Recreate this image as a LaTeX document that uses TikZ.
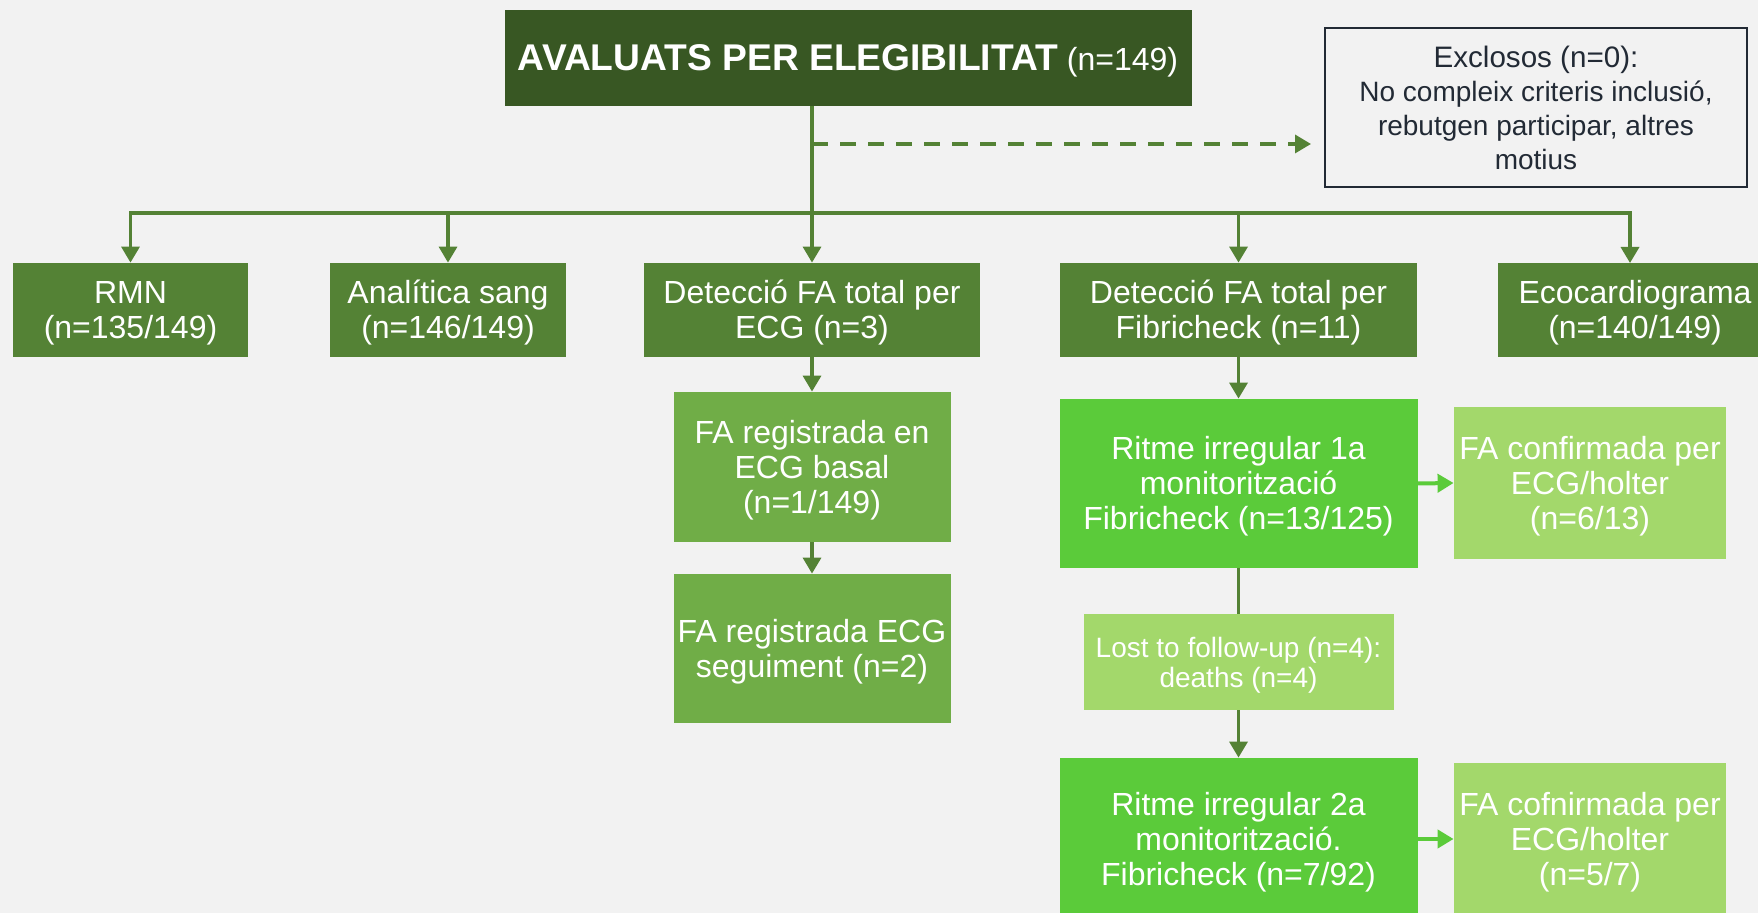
\documentclass[tikz,border=0pt]{standalone}
\usepackage{fontspec}
\setmainfont{Liberation Sans}
\usetikzlibrary{arrows.meta}
\definecolor{bgc}{HTML}{F2F2F2}
\definecolor{topc}{HTML}{385723}
\definecolor{rowc}{HTML}{548235}
\definecolor{regc}{HTML}{70AD47}
\definecolor{ritc}{HTML}{5BCB3A}
\definecolor{confc}{HTML}{A3D86B}
\definecolor{darkc}{HTML}{222A35}
\begin{document}
\begin{tikzpicture}[x=0.5pt,y=-0.5pt,
  txt/.style={inner sep=0pt, align=center, text=white, yshift=-1.5pt,
    font=\fontsize{16}{17.5}\selectfont},
  box/.style={rectangle, inner sep=0pt},
  rowbox/.style={box, fill=rowc, minimum height=47pt},
  regbox/.style={box, fill=regc, minimum width=138.5pt},
  ritbox/.style={box, fill=ritc, minimum width=179pt},
  confbox/.style={box, fill=confc, minimum width=136pt, minimum height=76pt},
  conn/.style={draw=rowc, line width=1.7pt},
  arr/.style={conn, -{Triangle[width=9pt,length=8pt]}},
  garr/.style={draw=ritc, line width=2pt, -{Triangle[width=9pt,length=8pt]}}]
\fill[bgc] (0,0) rectangle (1758,913);
\useasboundingbox (0,0) rectangle (1758,913);
\clip (0,0) rectangle (1758,913);

% top
\node[box, fill=topc, minimum width=343.5pt, minimum height=48pt,
  label={[txt]center:{{\fontsize{18.6}{20}\selectfont\bfseries AVALUATS PER ELEGIBILITAT} (n=149)}}] (top) at (848,58) {};
\node[rectangle, draw=darkc, line width=1pt, text=darkc, align=center, inner sep=0pt,
  minimum width=211pt, minimum height=79.5pt, font=\fontsize{14}{17}\selectfont] (excl) at (1536,107.5)
  {{\fontsize{14.8}{17}\selectfont Exclosos (n=0):}\\No compleix criteris inclusió,\\rebutgen participar, altres\\motius};

% row
\node[rowbox, minimum width=117.5pt, label={[txt]center:{RMN\\(n=135/149)}}] (rmn) at (130.5,310) {};
\node[rowbox, minimum width=118pt, label={[txt]center:{Analítica sang\\(n=146/149)}}] (anal) at (448,310) {};
\node[rowbox, minimum width=168pt, label={[txt]center:{Detecció FA total per\\ECG (n=3)}}] (ecg) at (812,310) {};
\node[rowbox, minimum width=178.5pt, label={[txt]center:{Detecció FA total per\\Fibricheck (n=11)}}] (fib) at (1238.5,310) {};
\node[rowbox, minimum width=137pt, label={[txt]center:{Ecocardiograma\\(n=140/149)}}] (eco) at (1635,310) {};

% ECG branch
\node[regbox, minimum height=75pt, label={[txt]center:{FA registrada en\\ECG basal\\(n=1/149)}}] (reg1) at (812,467) {};
\node[regbox, minimum height=74.5pt, label={[txt]center:{FA registrada ECG\\seguiment (n=2)}}] (reg2) at (812,648.5) {};

% Fibricheck branch
\node[ritbox, minimum height=84.5pt, label={[txt]center:{Ritme irregular 1a\\monitorització\\Fibricheck (n=13/125)}}] (rit1) at (1238.5,483.5) {};
\node[confbox, label={[txt]center:{FA confirmada per\\ECG/holter\\(n=6/13)}}] (conf1) at (1590,483) {};
\node[box, fill=confc, minimum width=155pt, minimum height=48pt,
  label={[txt, font=\fontsize{14}{15}\selectfont]center:{Lost to follow-up (n=4):\\deaths (n=4)}}] (lost) at (1238.5,662) {};
\node[ritbox, minimum height=81pt, label={[txt]center:{Ritme irregular 2a\\monitorització.\\Fibricheck (n=7/92)}}] (rit2) at (1238.5,839) {};
\node[confbox, label={[txt]center:{FA cofnirmada per\\ECG/holter\\(n=5/7)}}] (conf2) at (1590,839) {};

% connectors
\coordinate (bus) at (812,213);
\coordinate (dsh) at (812,144);
\coordinate (ecotop) at (1630,263);
\draw[arr] (top.south -| ecg.north) -- (ecg.north);
\draw[arr] (bus) -| (rmn.north);
\draw[arr] (bus) -| (anal.north);
\draw[arr] (bus) -| (fib.north);
\draw[arr] (bus) -| (ecotop);
\draw[arr, dash pattern=on 8pt off 6pt, shorten >=6.5pt] (dsh) -- (dsh -| excl.west);
\draw[arr] (ecg.south) -- (reg1.north);
\draw[arr] (reg1.south) -- (reg2.north);
\draw[arr] (fib.south) -- (rit1.north);
\draw[conn] (rit1.south) -- (lost.north);
\draw[arr] (lost.south) -- (rit2.north);
\draw[garr] (rit1.east) -- (conf1.west);
\draw[garr] (rit2.east) -- (conf2.west);
\end{tikzpicture}
\end{document}
